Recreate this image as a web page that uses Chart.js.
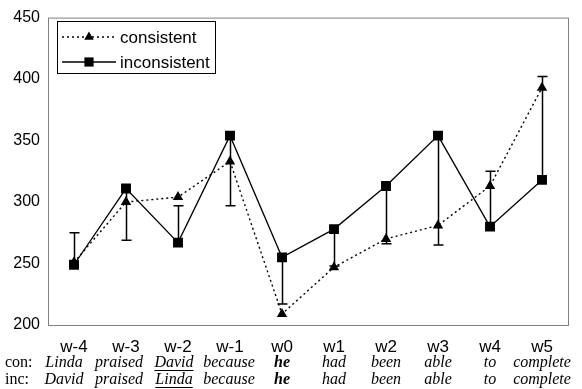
<!DOCTYPE html>
<html>
<head>
<meta charset="utf-8">
<script src="https://cdn.jsdelivr.net/npm/chart.js@4.4.0/dist/chart.umd.min.js"></script>
<style>
  html, body { margin: 0; padding: 0; background: #fff; }
  #wrap { width: 582px; height: 389px; }
</style>
</head>
<body>
<div id="wrap"><canvas id="chart"></canvas></div>
<script>
const positions = ['w-4', 'w-3', 'w-2', 'w-1', 'w0', 'w1', 'w2', 'w3', 'w4', 'w5'];
const conWords = ['Linda', 'praised', 'David', 'because', 'he', 'had', 'been', 'able', 'to', 'complete'];
const incWords = ['David', 'praised', 'Linda', 'because', 'he', 'had', 'been', 'able', 'to', 'complete'];
const consistent = [251, 300, 304, 333, 209, 247, 270, 281, 313, 393];
const inconsistent = [249, 311, 267, 354, 255, 278, 313, 354, 280, 318];
const inconsistentErr = [275, 269, 297, 297, 217, 248, 266, 265, 325, 402];
const yTicks = [200, 250, 300, 350, 400, 450];

const SANS = '"Liberation Sans", Arial, sans-serif';
const SERIF = '"Liberation Serif", "Times New Roman", serif';

// frame round the plot area + error bars, under the markers
const underlay = {
    id: 'underlay',
    beforeDatasetsDraw(chart) {
        const { ctx, chartArea: a, scales: { x, y } } = chart;
        ctx.save();
        ctx.strokeStyle = '#808080';
        ctx.lineWidth = 1;
        ctx.strokeRect(a.left + 0.5, a.top + 0.5, a.right - a.left, a.bottom - a.top);

        ctx.strokeStyle = '#000';
        ctx.lineWidth = 1.5;
        inconsistent.forEach((v, i) => {
            const px = Math.round(x.getPixelForValue(i)) + 0.5;
            const y0 = y.getPixelForValue(v);
            const y1 = y.getPixelForValue(inconsistentErr[i]);
            ctx.beginPath();
            ctx.moveTo(px, y0);
            ctx.lineTo(px, y1);
            ctx.moveTo(px - 5, y1);
            ctx.lineTo(px + 5, y1);
            ctx.stroke();
        });
        ctx.restore();
    }
};

// sentence rows under the x ticks
const wordRows = {
    id: 'wordRows',
    afterDraw(chart) {
        const { ctx, scales: { x } } = chart;
        const rows = [[conWords, 367, 'con:'], [incWords, 384, 'inc:']];
        ctx.save();
        ctx.fillStyle = '#000';
        ctx.strokeStyle = '#000';
        ctx.textBaseline = 'alphabetic';
        rows.forEach(([words, yy, tag]) => {
            ctx.font = '16px ' + SERIF;
            ctx.textAlign = 'left';
            ctx.fillText(tag, 5, yy);
            ctx.textAlign = 'center';
            words.forEach((w, i) => {
                ctx.font = (i === 4 ? 'italic bold ' : 'italic ') + '16px ' + SERIF;
                // first columns sit a little left of their tick, as in the original
                const px = x.getPixelForValue(i) - Math.max(0, 10 - i * 3);
                ctx.fillText(w, px, yy);
                if (i === 2) {
                    const tw = ctx.measureText(w).width;
                    ctx.lineWidth = 1;
                    ctx.beginPath();
                    ctx.moveTo(px - tw / 2, yy + 3.5);
                    ctx.lineTo(px + tw / 2, yy + 3.5);
                    ctx.stroke();
                }
            });
        });
        ctx.restore();
    }
};

// boxed legend inside the plot
const boxLegend = {
    id: 'boxLegend',
    afterDraw(chart) {
        const { ctx } = chart;
        ctx.save();
        ctx.fillStyle = '#fff';
        ctx.fillRect(57, 21, 158, 52);
        ctx.strokeStyle = '#000';
        ctx.lineWidth = 1;
        ctx.strokeRect(57.5, 21.5, 158, 52);
        chart.data.datasets.forEach((ds, i) => {
            const yy = 37 + i * 25;
            ctx.strokeStyle = '#000';
            ctx.lineWidth = ds.borderWidth;
            ctx.setLineDash(ds.borderDash || []);
            ctx.beginPath();
            ctx.moveTo(62, yy);
            ctx.lineTo(116, yy);
            ctx.stroke();
            ctx.setLineDash([]);
            ctx.fillStyle = '#000';
            Chart.helpers.drawPoint(ctx, { pointStyle: ds.pointStyle, radius: ds.pointRadius - 0.5, borderWidth: 0 }, 89, yy);
            ctx.font = '17px ' + SANS;
            ctx.textAlign = 'left';
            ctx.textBaseline = 'middle';
            ctx.fillText(ds.label, 120, yy + 1);
        });
        ctx.restore();
    }
};

new Chart(document.getElementById('chart'), {
    type: 'line',
    data: {
        labels: positions,
        datasets: [
            {
                label: 'consistent',
                data: consistent,
                borderColor: '#000',
                backgroundColor: '#000',
                borderWidth: 1.4,
                borderDash: [2, 3],
                pointStyle: 'triangle',
                pointRadius: 6,
                pointBorderWidth: 0,
                tension: 0
            },
            {
                label: 'inconsistent',
                data: inconsistent,
                borderColor: '#000',
                backgroundColor: '#000',
                borderWidth: 1.3,
                pointStyle: 'rect',
                pointRadius: 7,
                pointBorderWidth: 0,
                tension: 0
            }
        ]
    },
    options: {
        responsive: true,
        maintainAspectRatio: false,
        animation: false,
        layout: { padding: { top: 12, right: 14, left: 0, bottom: 0 } },
        plugins: { legend: { display: false }, tooltip: { enabled: false } },
        scales: {
            x: {
                offset: true,
                grid: { display: false, drawTicks: false },
                border: { display: false },
                ticks: { color: '#000', font: { family: SANS, size: 17 }, padding: 12, maxRotation: 0 },
                afterFit: s => { s.height = 64; }
            },
            y: {
                min: 200,
                max: 450,
                grid: { display: false, drawTicks: false },
                border: { display: false },
                ticks: { color: '#000', font: { family: SANS, size: 16 }, padding: 8 },
                afterBuildTicks: s => { s.ticks = yTicks.map(v => ({ value: v })); },
                afterFit: s => { s.width = 48; }
            }
        }
    },
    plugins: [underlay, wordRows, boxLegend]
});
</script>
</body>
</html>
